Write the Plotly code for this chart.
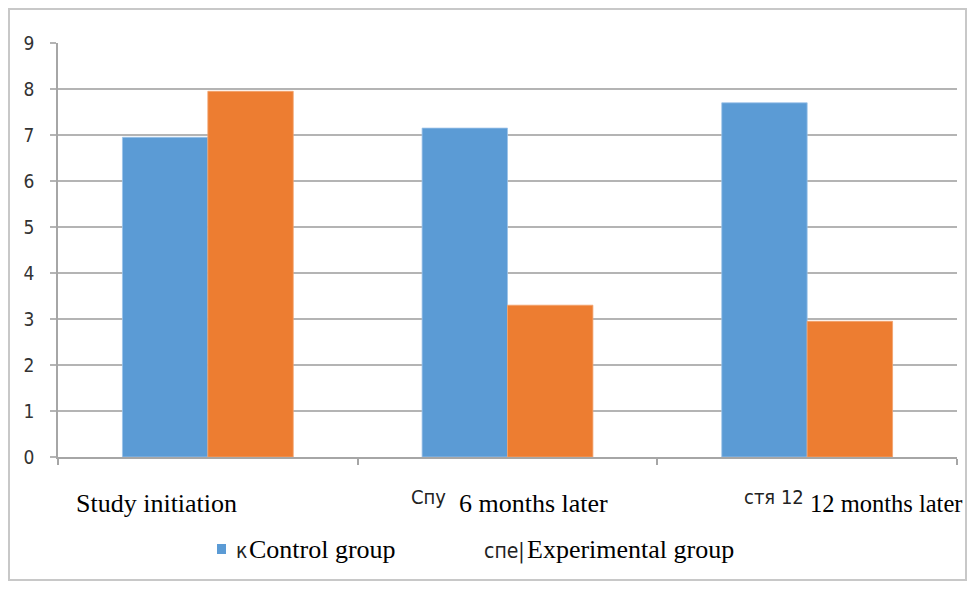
import plotly.graph_objects as go

categories = ["Study initiation", "6 months later", "12 months later"]
control = [6.95, 7.15, 7.7]
experimental = [7.95, 3.3, 2.95]
y_ticks = [0, 1, 2, 3, 4, 5, 6, 7, 8, 9]
series_names = ["Control group", "Experimental group"]
cat_prefixes = ["", "Спу", "стя 12"]
legend_prefixes = ["к", "спе|"]

OFF = 8  # page body margin
W, H = 977 - 2 * OFF, 590 - 2 * OFF
PL, PR, PT, PB = 58, 957, 43, 457  # plot area in page pixels
L, T = PL - OFF, PT - OFF
R, B = W - (PR - OFF), H - (PB - OFF)
PW, PH = PR - PL, PB - PT

def px(x):
    return (x - PL) / PW

def py(y):
    return (PB - y) / PH

BLUE = "#5B9BD5"
ORANGE = "#ED7D31"
SERIF = "Liberation Serif, Times New Roman, serif"
NARROW = "Liberation Sans Narrow, DejaVu Sans Condensed, Liberation Sans, sans-serif"

fig = go.Figure()
fig.add_trace(go.Bar(x=categories, y=control, name=series_names[0],
                     marker=dict(color=BLUE, line=dict(color="#9CC3E8", width=0.8))))
fig.add_trace(go.Bar(x=categories, y=experimental, name=series_names[1],
                     marker=dict(color=ORANGE, line=dict(color="#F3A36E", width=0.8))))

annotations = []
label_left = [74, 457, 808]
label_size = [26, 26, 24.5]
prefix_right = [None, 448, 806]
for i, cat in enumerate(categories):
    annotations.append(dict(text=cat, xref="paper", yref="paper", x=px(label_left[i]), y=py(503),
                            xanchor="left", yanchor="middle", showarrow=False,
                            font=dict(family=SERIF, size=label_size[i], color="#000")))
    if cat_prefixes[i]:
        annotations.append(dict(text=cat_prefixes[i], xref="paper", yref="paper", x=px(prefix_right[i]), y=py(497),
                                xanchor="right", yanchor="middle", showarrow=False,
                                font=dict(family=NARROW, size=20, color="#222")))

leg_text_left = [247, 525]
leg_prefix_right = [249, 527]
for i, nm in enumerate(series_names):
    annotations.append(dict(text=nm, xref="paper", yref="paper", x=px(leg_text_left[i]), y=py(549),
                            xanchor="left", yanchor="middle", showarrow=False,
                            font=dict(family=SERIF, size=26, color="#000")))
    annotations.append(dict(text=legend_prefixes[i], xref="paper", yref="paper", x=px(leg_prefix_right[i]), y=py(551),
                            xanchor="right", yanchor="middle", showarrow=False,
                            font=dict(family=NARROW, size=21, color="#222")))

shapes = [
    dict(type="rect", xref="paper", yref="paper", x0=px(9), x1=px(966), y0=py(580), y1=py(9),
         line=dict(color="#C8C8C8", width=2), fillcolor="rgba(0,0,0,0)", layer="below"),
    dict(type="rect", xref="paper", yref="paper", x0=px(217), x1=px(226), y0=py(554), y1=py(544),
         line=dict(width=0), fillcolor=BLUE),
]

fig.update_layout(
    width=W, height=H, autosize=False,
    margin=dict(l=L, r=R, t=T, b=B, pad=0),
    paper_bgcolor="white", plot_bgcolor="white",
    barmode="group", bargap=0.43, bargroupgap=0,
    showlegend=False,
    annotations=annotations, shapes=shapes,
    xaxis=dict(showticklabels=False, showline=True, linecolor="#A6A6A6", linewidth=1.5,
               ticks="outside", tickson="boundaries", ticklen=6, tickcolor="#A6A6A6", tickwidth=1.5,
               showgrid=False, zeroline=False),
    yaxis=dict(range=[0, 9], tickvals=y_ticks, ticktext=[str(v) for v in y_ticks],
               showline=True, linecolor="#A6A6A6", linewidth=1.5,
               ticks="outside", ticklen=6, tickcolor="#B4B4B4", tickwidth=1.5,
               showgrid=True, gridcolor="#B4B4B4", gridwidth=1.5, zeroline=False,
               ticklabelstandoff=12,
               tickfont=dict(family=NARROW, size=19, color="#333")),
)

fig.write_html("out.html")
